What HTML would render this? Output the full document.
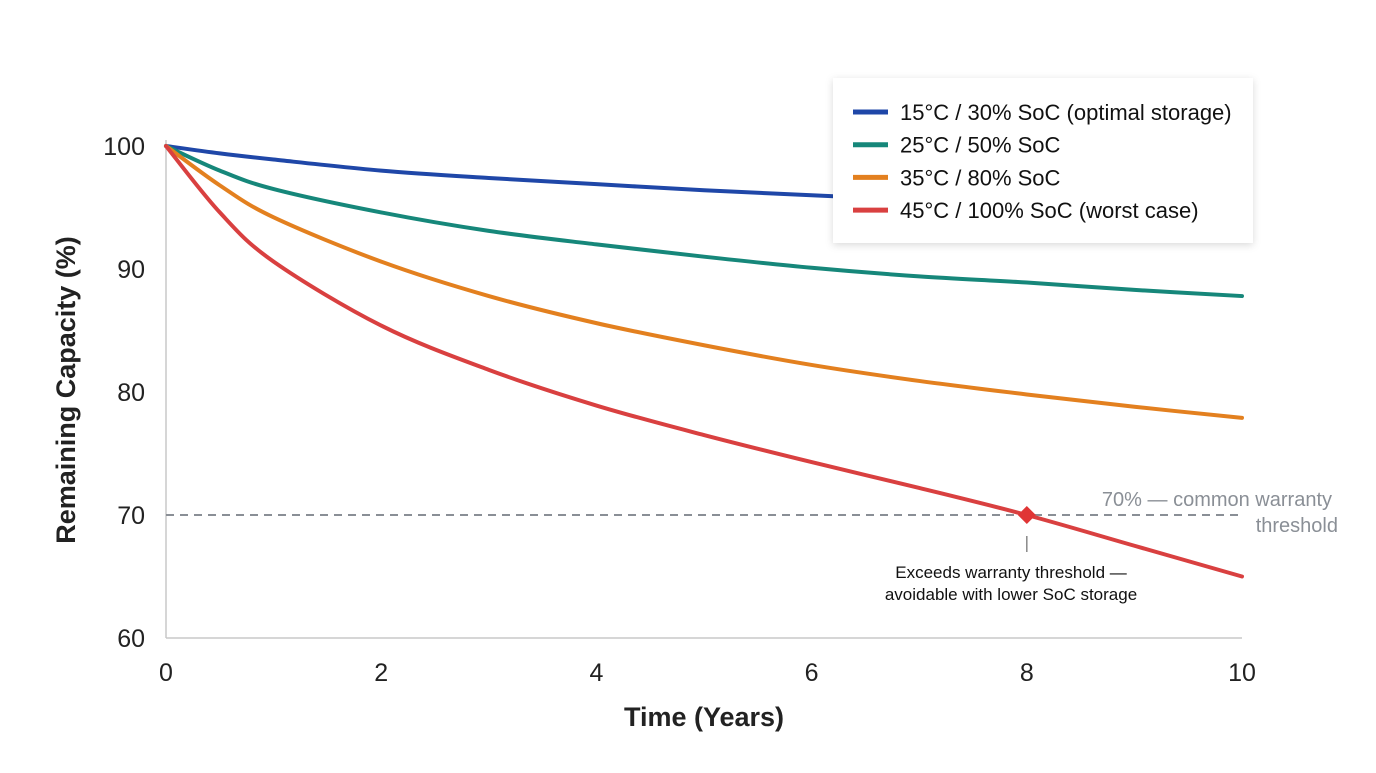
<!DOCTYPE html>
<html><head><meta charset="utf-8"><style>
body{margin:0;background:#fff;font-family:"Liberation Sans",sans-serif}
</style></head><body>
<svg id="chart" width="1376" height="768" xmlns="http://www.w3.org/2000/svg"></svg>
<script>
const years=[0,0.5,1,2,3,4,5,6,7,8,9,10];
const blueVals=[100,99.4,98.9,98.0,97.4,96.9,96.4,96.0,95.6,95.3,95.0,94.7];
const greenVals=[100,98.0,96.5,94.6,93.1,92.0,91.0,90.1,89.4,88.9,88.3,87.8];
const orangeVals=[100,96.8,94.2,90.6,87.8,85.6,83.8,82.2,80.9,79.8,78.8,77.9];
const redVals=[100,94.6,90.6,85.4,81.8,78.9,76.5,74.3,72.2,70.0,67.5,65.0];
const xTicks=[0,2,4,6,8,10];
const yTicks=[60,70,80,90,100];
const seriesNames=["15°C / 30% SoC (optimal storage)","25°C / 50% SoC","35°C / 80% SoC","45°C / 100% SoC (worst case)"];
const colors=["#1f47a8","#16877a","#e3801f","#d94040"];
const NS="http://www.w3.org/2000/svg";
const svg=document.getElementById('chart');
const X=v=>166+v*107.6, Y=v=>146+(100-v)*12.3;
function mk(t,a,p){const e=document.createElementNS(NS,t);for(const k in a)e.setAttribute(k,a[k]);(p||svg).appendChild(e);return e;}
let ax=mk('line',{x1:166,y1:140,x2:166,y2:638,stroke:'#c8c8c8','stroke-width':1.5});

let bx=mk('line',{x1:166,y1:638,x2:1242,y2:638,stroke:'#c8c8c8','stroke-width':1.5});

yTicks.forEach(v=>{const t=mk('text',{x:145,y:Y(v)+9,'text-anchor':'end','font-size':25,fill:'#222'});t.textContent=v;
});
xTicks.forEach(v=>{const t=mk('text',{x:X(v),y:681,'text-anchor':'middle','font-size':25,fill:'#222'});t.textContent=v;
});
let xt=mk('text',{x:704,y:726,'text-anchor':'middle','font-size':27,'font-weight':'bold',fill:'#222'});xt.textContent='Time (Years)';

let yt=mk('text',{x:0,y:0,transform:'translate(75,390) rotate(-90)','text-anchor':'middle','font-size':27,'font-weight':'bold',fill:'#222'});yt.textContent='Remaining Capacity (%)';

let th=mk('line',{x1:X(0),y1:Y(70),x2:X(10),y2:Y(70),stroke:'#8a8f96','stroke-width':2,'stroke-dasharray':'8,6'});

function path(vals){const p=years.map((x,i)=>[X(x),Y(vals[i])]);let d='M'+p[0];
for(let i=0;i<p.length-1;i++){const p0=p[i-1]||p[i],p1=p[i],p2=p[i+1],p3=p[i+2]||p2;
d+=' C'+(p1[0]+(p2[0]-p0[0])/6)+','+(p1[1]+(p2[1]-p0[1])/6)+' '+(p2[0]-(p3[0]-p1[0])/6)+','+(p2[1]-(p3[1]-p1[1])/6)+' '+p2;}return d;}
[blueVals,greenVals,orangeVals,redVals].forEach((v,i)=>{const l=mk('path',{d:path(v),fill:'none',stroke:colors[i],'stroke-width':4,'stroke-linecap':'round'});
});
const mx=X(8),my=Y(redVals[years.indexOf(8)]);
let dm=mk('path',{d:`M${mx},${my-9} L${mx+9},${my} L${mx},${my+9} L${mx-9},${my} Z`,fill:'#e03535'});

let tk=mk('line',{x1:mx,y1:536,x2:mx,y2:552,stroke:'#888','stroke-width':1.5});

[['Exceeds warranty threshold —',578],['avoidable with lower SoC storage',600]].forEach(([s,y])=>{const t=mk('text',{x:1011,y:y,'text-anchor':'middle','font-size':17,fill:'#111'});t.textContent=s;
});
[['70% — common warranty',1332,506],['threshold',1338,532]].forEach(([s,x,y])=>{const t=mk('text',{x:x,y:y,'text-anchor':'end','font-size':20,fill:'#8a8f96'});t.textContent=s;
});
const defs=mk('defs',{});const f=mk('filter',{id:'sh',x:'-10%',y:'-10%',width:'120%',height:'130%'},defs);
mk('feDropShadow',{dx:0,dy:2,stdDeviation:4,'flood-color':'#000','flood-opacity':0.15},f);
const lg=mk('g',{});
mk('rect',{x:833,y:78,width:420,height:165,fill:'#fff',filter:'url(#sh)'},lg);
seriesNames.forEach((n,i)=>{const y=112+i*32.7;const g=mk('g',{},lg);

mk('line',{x1:853,y1:y,x2:888,y2:y,stroke:colors[i],'stroke-width':5},g);
const t=mk('text',{x:900,y:y+8,'font-size':22,fill:'#111'},g);t.textContent=n;});
</script>
</body></html>
